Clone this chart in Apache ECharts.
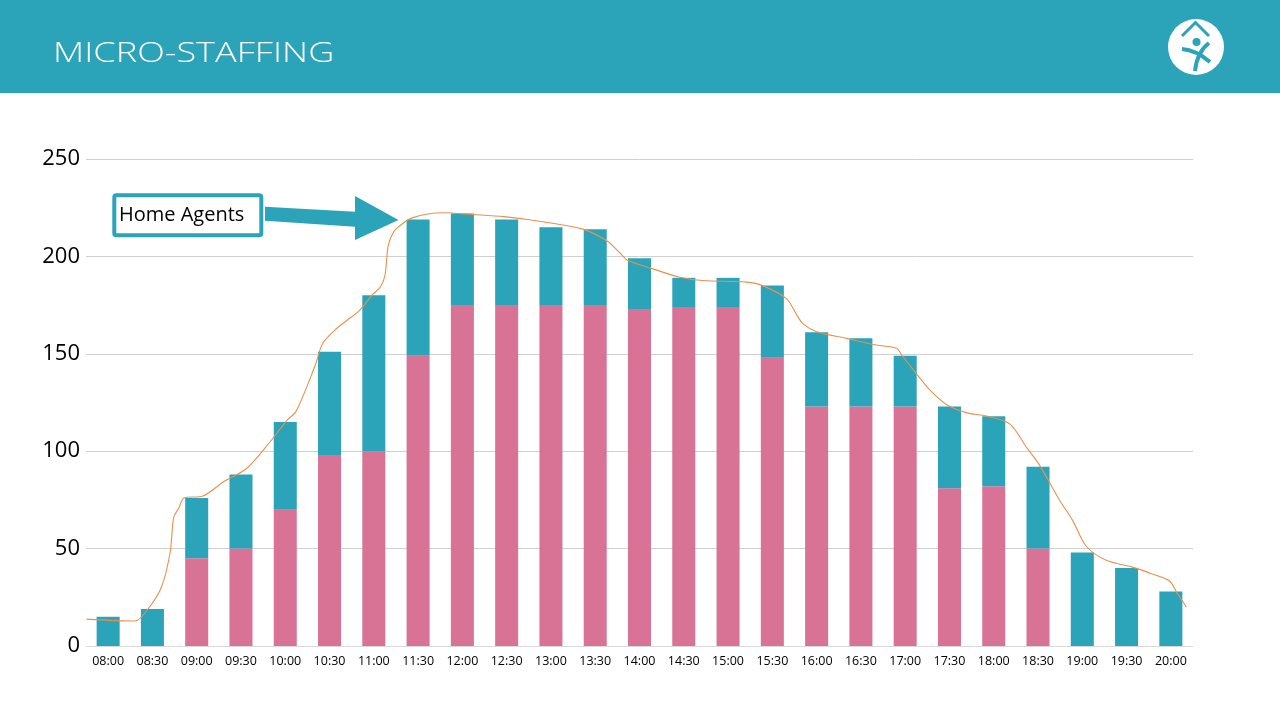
<!DOCTYPE html>
<html>
<head>
<meta charset="utf-8">
<script src="https://cdn.jsdelivr.net/npm/echarts@6/dist/echarts.min.js"></script>
<style>
html,body{margin:0;padding:0;background:#fff;}
#chart{width:1280px;height:720px;}
</style>
</head>
<body>
<div id="chart"></div>
<script>
// ---- data ----
const categories = ['08:00','08:30','09:00','09:30','10:00','10:30','11:00','11:30','12:00','12:30','13:00','13:30','14:00','14:30','15:00','15:30','16:00','16:30','17:00','17:30','18:00','18:30','19:00','19:30','20:00'];
const officeAgents = [0,0,45,50,70,98,100,149,175,175,175,175,173,174,174,148,123,123,123,81,82,50,0,0,0];
const homeAgents   = [15,19,31,38,45,53,80,70,47,44,40,39,26,15,15,37,38,35,26,42,36,42,48,40,28];
// forecast curve: [category position, value]
const forecastCurve = [
  [-0.49,13.8],[0.60,12.8],[0.90,19],[1.20,30],[1.40,48],[1.48,66],[1.60,71],[1.71,76],
  [2.14,77],[2.63,84.7],[3.12,91],[3.65,104.6],[4.03,115.6],[4.25,120.7],[4.67,143.7],
  [4.85,155.5],[5.16,163],[5.50,169],[5.68,172.3],[5.98,180.6],[6.14,184],[6.25,190],
  [6.32,205],[6.41,211],[6.52,214.5],[6.88,219.9],[7.56,222.4],[8.23,221.5],[8.94,220.4],
  [9.85,217.7],[10.72,214],[11.26,208],[11.55,202],[11.73,198],[12.30,193.6],[12.91,189.3],
  [13.43,187.6],[14.42,186.8],[14.78,185],[15.32,178.3],[15.55,170],[15.69,165.5],
  [16.00,161.3],[16.68,157.9],[17.35,154.5],[17.81,152.8],[17.92,149.4],[18.33,137.6],
  [18.55,131.6],[18.93,124],[19.38,119.8],[19.84,118],[20.36,114],[20.74,102],[21.04,92.6],
  [21.49,74.7],[21.78,64.5],[22.09,51.2],[22.54,44],[23.13,40.5],[23.58,37],[23.97,33.4],
  [24.12,28],[24.35,20]
];
const yTicks = {min:0, max:250, interval:50};
const titleText = 'MICRO-STAFFING';
const calloutText = 'Home Agents';

// ---- style ----
const TEAL = '#2BA3B9';
const PINK = '#D87396';
const ORANGE = '#E8914F';
const FONT = 'Open Sans';

const chart = echarts.init(document.getElementById('chart'), null, {renderer:'canvas'});
chart.setOption({
  backgroundColor:'#ffffff',
  animation:false,
  grid:{left:86, right:87, top:159, bottom:74},
  xAxis:[{
    type:'category', data:categories,
    axisLine:{show:true, lineStyle:{color:'#d9d9d9', width:1}},
    axisTick:{show:false},
    axisLabel:{color:'#000', fontSize:12.5, fontFamily:FONT, margin:9, interval:0}
  },{
    type:'value', min:-0.5, max:24.5, show:false
  }],
  yAxis:{
    type:'value', min:yTicks.min, max:yTicks.max, interval:yTicks.interval,
    axisLine:{show:false}, axisTick:{show:false},
    axisLabel:{color:'#000', fontSize:22, fontFamily:FONT, margin:6},
    splitLine:{lineStyle:{color:'#d0d0d0', width:1}}
  },
  series:[
    {name:'Office', type:'bar', stack:'agents', data:officeAgents, barWidth:'52%',
     itemStyle:{color:PINK}, z:2},
    {name:'Home', type:'bar', stack:'agents', data:homeAgents, barWidth:'52%',
     itemStyle:{color:TEAL}, z:2},
    {name:'Forecast', type:'line', xAxisIndex:1, data:forecastCurve, smooth:0.3,
     showSymbol:false, lineStyle:{color:ORANGE, width:1.1}, z:5}
  ],
  graphic:[
    {type:'rect', z:-1, shape:{x:0,y:0,width:1280,height:93}, style:{fill:TEAL}},
    // header title
    {type:'text', z:10, x:53, y:40, scaleX:1.29, scaleY:1,
     style:{text:titleText, fill:'#ffffff', fontSize:28, fontWeight:300, fontFamily:FONT, textVerticalAlign:'top'}},
    // logo
    {type:'circle', z:10, shape:{cx:1196, cy:47, r:28}, style:{fill:'#ffffff'}},
    {type:'polyline', z:11, shape:{points:[[1182,36],[1195.5,22.5],[1209,36]]},
     style:{stroke:TEAL, lineWidth:3, fill:null}},
    {type:'circle', z:11, shape:{cx:1196.5, cy:42, r:4}, style:{fill:TEAL}},
    {type:'bezierCurve', z:11, shape:{x1:1182,y1:49,cpx1:1196,cpy1:50,x2:1210,y2:62}, style:{stroke:TEAL, lineWidth:4, fill:null}},
    {type:'bezierCurve', z:11, shape:{x1:1209,y1:43,cpx1:1197,cpy1:52,x2:1195,y2:71}, style:{stroke:TEAL, lineWidth:4, fill:null}},
    // callout box
    {type:'rect', z:20, shape:{x:114.3, y:195.3, width:147, height:40, r:2},
     style:{fill:'#ffffff', stroke:TEAL, lineWidth:4}},
    {type:'text', z:21, x:119, y:215.5,
     style:{text:calloutText, fill:'#000', fontSize:20, fontFamily:FONT, textVerticalAlign:'middle'}},
    // arrow
    {type:'polygon', z:20, shape:{points:[[265,206.7],[355,211.7],[355,196],[398.5,220],[355,240],[355,226.7],[265,220.7]]},
     style:{fill:TEAL}}
  ]
});
</script>
</body>
</html>
